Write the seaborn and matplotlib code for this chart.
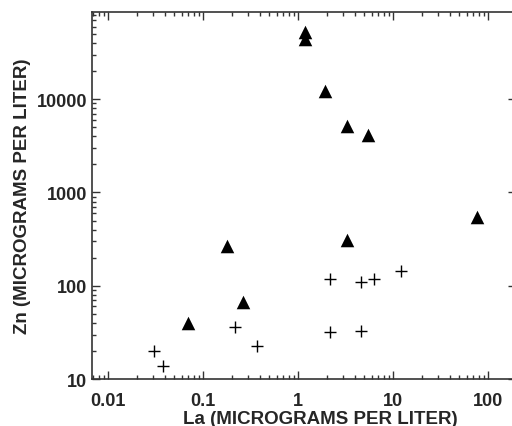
import matplotlib
matplotlib.use("Agg")
import matplotlib.pyplot as plt
import matplotlib.ticker as mticker
import pandas as pd
import seaborn as sns

# triangle samples
tri_la = [1.2, 1.2, 1.92, 3.28, 5.45, 76, 3.28, 0.179, 0.264, 0.0695]
tri_zn = [52000, 44000, 12200, 5200, 4100, 552, 312, 270, 67, 40]

# plus samples
plus_la = [0.0305, 0.038, 0.217, 0.37, 2.17, 2.17, 4.6, 4.6, 6.3, 12.1]
plus_zn = [20, 13.8, 36, 22.7, 119, 32, 110, 33, 119, 145]

df = pd.DataFrame({
    "La": tri_la + plus_la,
    "Zn": tri_zn + plus_zn,
    "group": ["tri"] * len(tri_la) + ["plus"] * len(plus_la),
})

sns.set_style("ticks")
plt.rcParams["font.family"] = ["Liberation Sans", "DejaVu Sans"]
plt.rcParams["font.weight"] = "bold"

fig = plt.figure(figsize=(5.12, 4.27), dpi=100)
# axes runs slightly past the right edge, as in the original
ax = fig.add_axes([0.1797, 0.110, 0.8281, 0.8594])

sns.scatterplot(data=df[df.group == "tri"], x="La", y="Zn", marker="^", s=95,
                color="black", edgecolor="black", linewidth=0, ax=ax, legend=False)
sns.scatterplot(data=df[df.group == "plus"], x="La", y="Zn", marker="+", s=85,
                color="black", linewidth=1.0, ax=ax, legend=False)

ax.set_xscale("log")
ax.set_yscale("log")
ax.set_xlim(0.0068, 197)
ax.set_ylim(10, 86000)

ax.xaxis.set_major_locator(mticker.FixedLocator([0.01, 0.1, 1, 10, 100]))
ax.xaxis.set_major_formatter(mticker.FixedFormatter(["0.01", "0.1", "1", "10", "100"]))
ax.yaxis.set_major_locator(mticker.FixedLocator([10, 100, 1000, 10000]))
ax.yaxis.set_major_formatter(mticker.FixedFormatter(["10", "100", "1000", "10000"]))
ax.xaxis.set_minor_locator(mticker.LogLocator(base=10, subs=range(2, 10), numticks=20))
ax.yaxis.set_minor_locator(mticker.LogLocator(base=10, subs=range(2, 10), numticks=20))
ax.xaxis.set_minor_formatter(mticker.NullFormatter())
ax.yaxis.set_minor_formatter(mticker.NullFormatter())

ax.tick_params(which="major", direction="in", length=6, width=1, labelsize=13,
               top=True, right=True, color="#333333")
ax.tick_params(axis="x", which="major", pad=9)
ax.tick_params(which="minor", direction="in", length=3, width=1,
               top=True, right=True, color="#333333")
for lab in ax.get_xticklabels() + ax.get_yticklabels():
    lab.set_fontweight("bold")

for side in ["left", "bottom", "top"]:
    ax.spines[side].set_color("#333333")
    ax.spines[side].set_linewidth(1.2)
ax.spines["right"].set_visible(False)

ax.set_xlabel("La (MICROGRAMS PER LITER)", fontsize=13.5, fontweight="bold", labelpad=3)
ax.xaxis.set_label_coords(0.538, -0.085, transform=ax.transAxes)
ax.xaxis.label.set_va("top")
ax.set_ylabel("Zn (MICROGRAMS PER LITER)", fontsize=13.5, fontweight="bold", labelpad=4)

fig.savefig("out.png", dpi=100)
